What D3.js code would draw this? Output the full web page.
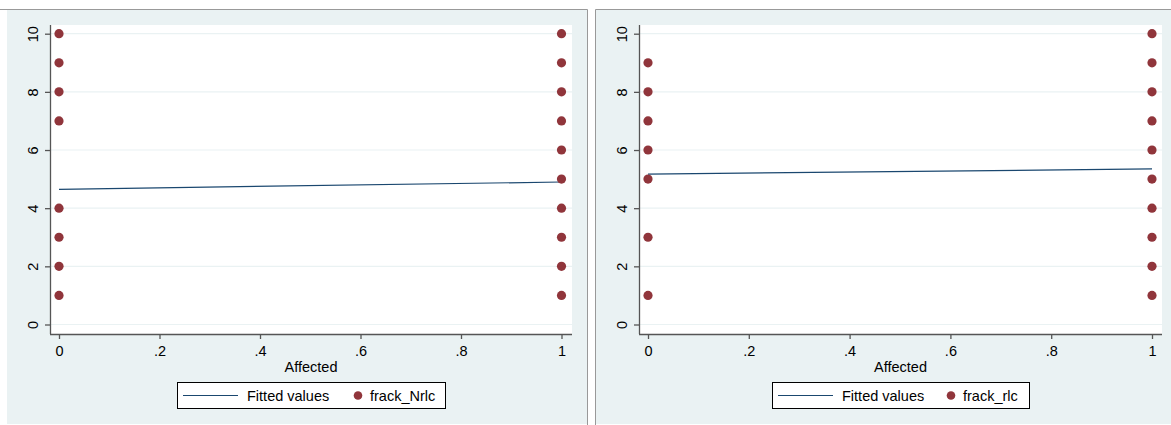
<!DOCTYPE html>
<html>
<head>
<meta charset="utf-8">
<script src="https://cdn.jsdelivr.net/npm/d3@7"></script>
<style>
	body { margin: 0; background: #fff; }
	svg { display: block; font-family: "Liberation Sans", Arial, sans-serif; }
	svg text { font-family: "Liberation Sans", Arial, sans-serif; }
</style>
</head>
<body>
<svg id="chart" width="1171" height="425"></svg>
<script>
// frack_Nrlc by Affected (left panel)
var nrlc_x0 = [1, 2, 3, 4, 7, 8, 9, 10];
var nrlc_x1 = [1, 2, 3, 4, 5, 6, 7, 8, 9, 10];
var nrlc_fit = [4.65, 4.9];

// frack_rlc by Affected (right panel)
var rlc_x0 = [1, 3, 5, 6, 7, 8, 9];
var rlc_x1 = [1, 2, 3, 4, 5, 6, 7, 8, 9, 10];
var rlc_fit = [5.17, 5.35];

var xTicks = [0, 0.2, 0.4, 0.6, 0.8, 1];
var xTickLabels = ['0', '.2', '.4', '.6', '.8', '1'];
var yTicks = [0, 2, 4, 6, 8, 10];
var xTitle = 'Affected';
var legendLine = 'Fitted values';

var svg = d3.select('#chart');

var BG = '#eaf2f3',
	DOT = '#90353b',
	LINE = '#1a476f',
	GRID = '#eaf2f3',
	AXIS = '#555';

function panel(conf) {
	var g = svg.append('g');

	// panel background + border
	g.append('rect')
		.attr('x', conf.bg[0]).attr('y', 9)
		.attr('width', conf.bg[1] - conf.bg[0]).attr('height', 415)
		.attr('fill', BG);
	g.append('path')
		.attr('d', conf.border)
		.attr('fill', 'none').attr('stroke', '#999').attr('stroke-width', 1);

	// plot region
	g.append('rect')
		.attr('x', conf.plot[0]).attr('y', 25)
		.attr('width', conf.plot[1] - conf.plot[0]).attr('height', 334 - 25)
		.attr('fill', '#fff');

	var x = d3.scaleLinear().domain([0, 1]).range(conf.xr),
		y = d3.scaleLinear().domain([0, 10]).range([324.5, 33.7]);

	// gridlines
	g.selectAll('line.grid').data(yTicks).enter().append('line')
		.attr('class', 'grid')
		.attr('x1', conf.plot[0]).attr('x2', conf.plot[1])
		.attr('y1', function (d) {return y(d);}).attr('y2', function (d) {return y(d);})
		.attr('stroke', GRID).attr('stroke-width', 1.2);

	// y axis
	var yAxis = d3.axisLeft(y).tickValues(yTicks).tickSize(5);
	var ya = g.append('g')
		.attr('transform', 'translate(' + conf.plot[0] + ',0)')
		.call(yAxis)
		.attr('font-family', null).attr('font-size', null);
	ya.select('.domain').attr('d', 'M0.5,25V334').attr('stroke', AXIS).attr('stroke-width', 1.3);
	ya.selectAll('.tick line').attr('stroke', AXIS).attr('stroke-width', 1.3);
	ya.selectAll('.tick text')
		.style('font-size', '14.5px').attr('fill', '#000')
		.attr('text-anchor', 'middle')
		.attr('transform', 'translate(-17,0) rotate(-90)')
		.attr('x', 0).attr('y', 0)
		.attr('dy', '0.36em');

	// x axis
	var xAxis = d3.axisBottom(x).tickValues(xTicks)
		.tickFormat(function (d, i) {return xTickLabels[i];})
		.tickSize(5).tickPadding(7);
	var xa = g.append('g')
		.attr('transform', 'translate(0,334)')
		.call(xAxis)
		.attr('font-family', null).attr('font-size', null);
	xa.select('.domain').attr('d', 'M' + conf.plot[0] + ',0.5H' + conf.plot[1]).attr('stroke', AXIS).attr('stroke-width', 1.3);
	xa.selectAll('.tick line').attr('stroke', AXIS).attr('stroke-width', 1.3);
	xa.selectAll('.tick text').style('font-size', '14.5px').attr('fill', '#000');

	g.append('text')
		.attr('x', (conf.plot[0] + conf.plot[1]) / 2).attr('y', 372)
		.attr('text-anchor', 'middle').style('font-size', '14.5px')
		.text(xTitle);

	// fitted line
	var line = d3.line().x(function (d, i) {return x(i);}).y(function (d) {return y(d);});
	g.append('path')
		.datum(conf.fit)
		.attr('d', line)
		.attr('fill', 'none').attr('stroke', LINE).attr('stroke-width', 1.2);

	// scatter points
	var pts = conf.x0.map(function (v) {return [0, v];})
		.concat(conf.x1.map(function (v) {return [1, v];}));
	g.selectAll('circle.pt').data(pts).enter().append('circle')
		.attr('class', 'pt')
		.attr('cx', function (d) {return x(d[0]);})
		.attr('cy', function (d) {return y(d[1]);})
		.attr('r', 4.6)
		.attr('fill', DOT);

	// legend
	var lg = g.append('g').attr('transform', 'translate(' + conf.legend[0] + ',382)');
	lg.append('rect')
		.attr('x', 0.5).attr('y', 0.5)
		.attr('width', conf.legend[1]).attr('height', 26)
		.attr('fill', '#fff').attr('stroke', '#000').attr('stroke-width', 1);
	lg.append('line')
		.attr('x1', 6).attr('x2', 61).attr('y1', 13.5).attr('y2', 13.5)
		.attr('stroke', LINE).attr('stroke-width', 1.2);
	lg.append('text')
		.attr('x', 70).attr('y', 18.5).style('font-size', '14.5px').text(legendLine);
	lg.append('circle')
		.attr('cx', conf.legend[2]).attr('cy', 13.5).attr('r', 4.3).attr('fill', DOT);
	lg.append('text')
		.attr('x', conf.legend[2] + 12).attr('y', 18.5).style('font-size', '14.5px').text(conf.name);
}

panel({
	bg: [7, 587],
	border: 'M0,9.5H587.5V425',
	plot: [50, 572],
	xr: [59, 561.5],
	fit: nrlc_fit,
	x0: nrlc_x0,
	x1: nrlc_x1,
	legend: [177, 268, 181],
	name: 'frack_Nrlc'
});

panel({
	bg: [596, 1171],
	border: 'M595.5,425V9.5H1171',
	plot: [639, 1162],
	xr: [648, 1152],
	fit: rlc_fit,
	x0: rlc_x0,
	x1: rlc_x1,
	legend: [772, 257, 179],
	name: 'frack_rlc'
});
</script>
</body>
</html>
